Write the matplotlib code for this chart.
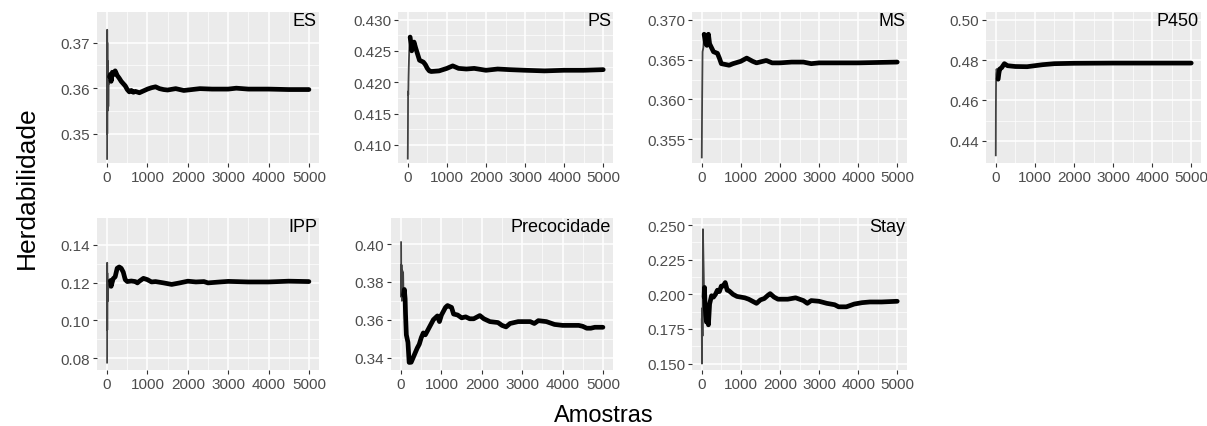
import matplotlib
matplotlib.use("Agg")
import matplotlib.pyplot as plt
import numpy as np

plt.rcParams['font.family'] = ['Liberation Sans', 'DejaVu Sans']

# traces: sample index -> running heritability
es_x = [0, 2, 4, 6, 8, 10, 15, 20, 30, 40, 50, 60, 80, 100, 130, 160, 200, 250, 300, 350, 400, 450, 500,
        550, 600, 650, 700, 800, 900, 1000, 1100, 1200, 1300, 1400, 1500, 1700, 1900, 2000, 2300, 2600,
        3000, 3200, 3500, 4000, 4500, 5000]
es_y = [0.3445, 0.3728, 0.350, 0.370, 0.355, 0.366, 0.357, 0.364, 0.356, 0.362, 0.361, 0.3625, 0.363,
        0.3615, 0.3635, 0.363, 0.3638, 0.3628, 0.3622, 0.3615, 0.361, 0.3605, 0.3597, 0.3592, 0.3595,
        0.3591, 0.3593, 0.359, 0.3594, 0.3598, 0.3601, 0.3603, 0.3599, 0.3597, 0.3596, 0.3599, 0.3595,
        0.3596, 0.3599, 0.3598, 0.3598, 0.3600, 0.3598, 0.3598, 0.3597, 0.3597]

ps_x = [0, 3, 5, 8, 12, 20, 30, 40, 50, 60, 80, 100, 130, 160, 200, 250, 300, 400, 450, 500, 550, 600,
        800, 1000, 1150, 1300, 1500, 1700, 2000, 2300, 2600, 3000, 3500, 4000, 4500, 5000]
ps_y = [0.4078, 0.411, 0.414, 0.4185, 0.418, 0.421, 0.4235, 0.4255, 0.426, 0.4272, 0.4262, 0.425,
        0.4258, 0.4264, 0.4255, 0.4245, 0.4235, 0.4232, 0.4228, 0.4222, 0.4218, 0.4217, 0.4218, 0.4222,
        0.4226, 0.4222, 0.4221, 0.4222, 0.4219, 0.4221, 0.4220, 0.4219, 0.4218, 0.4219, 0.4219, 0.4220]

ms_x = [0, 5, 10, 20, 40, 60, 100, 130, 170, 200, 250, 300, 400, 450, 500, 600, 700, 800, 1000, 1150,
        1300, 1400, 1650, 1800, 2000, 2300, 2600, 2800, 3000, 4000, 5000]
ms_y = [0.3527, 0.357, 0.3605, 0.366, 0.3665, 0.3682, 0.367, 0.3668, 0.3682, 0.3670, 0.3665, 0.3660,
        0.3658, 0.3652, 0.3645, 0.3644, 0.3643, 0.3645, 0.3648, 0.3652, 0.3648, 0.3646, 0.3649, 0.3646,
        0.3646, 0.3647, 0.3647, 0.3645, 0.3646, 0.3646, 0.3647]

p450_x = [0, 3, 6, 10, 20, 35, 50, 60, 80, 100, 150, 220, 300, 500, 800, 1000, 1200, 1500, 2000, 3000,
          4000, 5000]
p450_y = [0.4328, 0.455, 0.466, 0.473, 0.4755, 0.474, 0.4755, 0.4705, 0.4735, 0.4755, 0.4762, 0.4782,
          0.4772, 0.4768, 0.4767, 0.4772, 0.4777, 0.4782, 0.4784, 0.4785, 0.4785, 0.4785]

ipp_x = [0, 2, 4, 6, 10, 20, 50, 80, 100, 150, 200, 250, 300, 350, 400, 450, 500, 600, 700, 750, 800,
         900, 1000, 1100, 1200, 1400, 1600, 1800, 2000, 2200, 2400, 2500, 2800, 3000, 3500, 4000, 4500, 5000]
ipp_y = [0.0778, 0.1304, 0.095, 0.125, 0.110, 0.116, 0.118, 0.121, 0.118, 0.122, 0.123, 0.1275, 0.1282,
         0.1275, 0.1255, 0.1215, 0.1205, 0.1208, 0.1205, 0.1198, 0.1207, 0.1222, 0.1215, 0.1203, 0.1205,
         0.1198, 0.1190, 0.1198, 0.1207, 0.1203, 0.1205, 0.1198, 0.1203, 0.1206, 0.1203, 0.1203, 0.1207,
         0.1205]

prec_x = [0, 5, 10, 20, 30, 40, 50, 60, 80, 100, 110, 130, 150, 170, 200, 250, 300, 350, 400, 450, 500,
          550, 600, 700, 800, 900, 950, 1000, 1100, 1150, 1250, 1300, 1400, 1500, 1600, 1700, 1800, 1950,
          2050, 2200, 2400, 2500, 2600, 2700, 2900, 3000, 3200, 3300, 3400, 3600, 3800, 4000, 4200, 4400,
          4500, 4600, 4700, 4800, 5000]
prec_y = [0.401, 0.372, 0.389, 0.370, 0.386, 0.378, 0.385, 0.373, 0.376, 0.371, 0.363, 0.352, 0.350,
          0.348, 0.3374, 0.3375, 0.340, 0.3425, 0.345, 0.347, 0.3505, 0.353, 0.352, 0.356, 0.360, 0.362,
          0.359, 0.3625, 0.3665, 0.3675, 0.3665, 0.363, 0.3625, 0.361, 0.3615, 0.3605, 0.3605, 0.3622,
          0.3605, 0.359, 0.3585, 0.357, 0.3562, 0.358, 0.359, 0.359, 0.359, 0.358, 0.3595, 0.359, 0.3575,
          0.357, 0.357, 0.357, 0.3565, 0.3555, 0.3555, 0.356, 0.356]

stay_x = [0, 5, 10, 20, 30, 40, 50, 60, 70, 80, 100, 120, 150, 170, 200, 250, 300, 350, 400, 450, 500,
          550, 600, 650, 700, 800, 900, 1000, 1100, 1200, 1300, 1400, 1500, 1600, 1700, 1750, 1850, 1950,
          2200, 2400, 2600, 2700, 2800, 3000, 3200, 3400, 3500, 3700, 3900, 4100, 4300, 4600, 5000]
stay_y = [0.182, 0.150, 0.190, 0.170, 0.247, 0.230, 0.215, 0.198, 0.205, 0.195, 0.185, 0.180, 0.185,
          0.178, 0.193, 0.199, 0.198, 0.200, 0.203, 0.202, 0.206, 0.206, 0.2085, 0.203, 0.2025, 0.200,
          0.1985, 0.198, 0.1975, 0.1965, 0.195, 0.1935, 0.196, 0.197, 0.1995, 0.2005, 0.198, 0.1965,
          0.1965, 0.1975, 0.1955, 0.1935, 0.1955, 0.195, 0.1935, 0.1925, 0.191, 0.191, 0.193, 0.194,
          0.1945, 0.1945, 0.195]

names = ['ES', 'PS', 'MS', 'P450', 'IPP', 'Precocidade', 'Stay']
xs = [es_x, ps_x, ms_x, p450_x, ipp_x, prec_x, stay_x]
ys = [es_y, ps_y, ms_y, p450_y, ipp_y, prec_y, stay_y]
yticks = [[0.35, 0.36, 0.37],
          [0.410, 0.415, 0.420, 0.425, 0.430],
          [0.355, 0.360, 0.365, 0.370],
          [0.44, 0.46, 0.48, 0.50],
          [0.08, 0.10, 0.12, 0.14],
          [0.34, 0.36, 0.38, 0.40],
          [0.150, 0.175, 0.200, 0.225, 0.250]]
ylims = [(0.3436, 0.3767), (0.4071, 0.4312), (0.352, 0.371), (0.429, 0.5038),
         (0.0739, 0.154), (0.3334, 0.4138), (0.1454, 0.2551)]
yfmt = ['%.2f', '%.3f', '%.3f', '%.2f', '%.2f', '%.2f', '%.3f']

# panel boxes in pixels: left, right, top, bottom
W, H = 1207, 427
boxes = [(97, 319, 13, 164), (398, 613, 13, 164), (692, 907, 13, 164), (986, 1201, 13, 164),
         (97, 319, 219, 371), (391, 613, 219, 371), (692, 907, 219, 371)]

fig = plt.figure(figsize=(W / 100, H / 100), dpi=100)

for i in range(7):
    l, r, t, b = boxes[i]
    ax = fig.add_axes([l / W, 1 - b / H, (r - l) / W, (b - t) / H])
    ax.set_facecolor('#EBEBEB')
    for s in ax.spines.values():
        s.set_visible(False)
    ax.set_xlim(-250, 5250)
    ax.set_ylim(*ylims[i])
    ax.set_xticks([0, 1000, 2000, 3000, 4000, 5000])
    ax.set_xticks([500, 1500, 2500, 3500, 4500], minor=True)
    yt = yticks[i]
    ax.set_yticks(yt)
    ax.set_yticks([(yt[k] + yt[k + 1]) / 2 for k in range(len(yt) - 1)], minor=True)
    ax.set_yticklabels([yfmt[i] % v for v in yt])
    ax.grid(True, which='major', color='white', lw=1.1)
    ax.grid(True, which='minor', color='white', lw=0.5)
    ax.set_axisbelow(True)
    ax.tick_params(which='major', length=3, width=0.8, color='#333333', labelsize=11,
                   labelcolor='#4D4D4D', pad=2)
    ax.tick_params(which='minor', length=0)
    x = np.array(xs[i])
    y = np.array(ys[i])
    ax.plot(x, y, color='#222222', lw=1.3, alpha=0.85)
    m = x >= 60
    ax.plot(x[m], y[m], color='black', lw=3.4, solid_joinstyle='round', solid_capstyle='round')
    ax.text(5200, ylims[i][1], names[i], ha='right', va='top', fontsize=13, color='black')

fig.text(27 / W, 0.56, 'Herdabilidade', rotation=90, ha='center', va='center', fontsize=19)
fig.text(0.5, 5 / H, 'Amostras', ha='center', va='baseline', fontsize=17)

fig.savefig('out.png', dpi=100)
